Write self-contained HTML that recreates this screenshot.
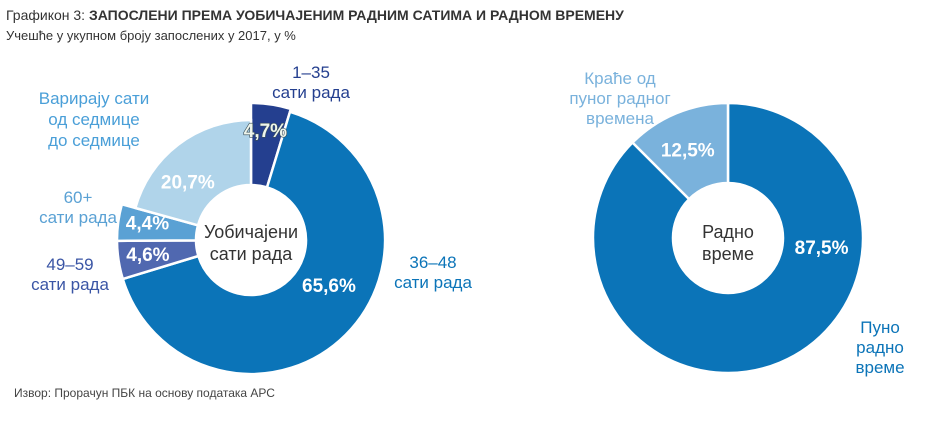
<!DOCTYPE html>
<html><head><meta charset="utf-8"><style>
body{margin:0;width:940px;height:428px;background:#fff;overflow:hidden;font-family:"Liberation Sans","DejaVu Sans",sans-serif}
svg text{font-family:"Liberation Sans","DejaVu Sans",sans-serif}
</style></head><body>
<svg width="940" height="428">
<text x="6" y="20" font-size="14" fill="#333">Графикон 3: <tspan font-weight="bold">ЗАПОСЛЕНИ ПРЕМА УОБИЧАЈЕНИМ РАДНИМ САТИМА И РАДНОМ ВРЕМЕНУ</tspan></text>
<text x="6" y="40" font-size="13" fill="#333">Учешће у укупном броју запослених у 2017, у %</text>
<text x="14" y="397" font-size="12" fill="#444">Извор: Прорачун ПБК на основу података АРС</text>
<g id="left"></g><g id="right"></g>
<g font-size="17" fill="#4a9fd8" text-anchor="middle">
<text x="94" y="104"><tspan x="94">Варирају сати</tspan><tspan x="94" dy="21">од седмице</tspan><tspan x="94" dy="21">до седмице</tspan></text>
<text x="78" y="203" fill="#5aa1d4"><tspan x="78">60+</tspan><tspan x="78" dy="20">сати рада</tspan></text>
<text x="70" y="270" fill="#3a55a5"><tspan x="70">49–59</tspan><tspan x="70" dy="20">сати рада</tspan></text>
<text x="311" y="78" fill="#243f8f"><tspan x="311">1–35</tspan><tspan x="311" dy="20">сати рада</tspan></text>
<text x="433" y="268" fill="#0b74b8"><tspan x="433">36–48</tspan><tspan x="433" dy="20">сати рада</tspan></text>
<text x="620" y="84" fill="#7ab2dc"><tspan x="620">Краће од</tspan><tspan x="620" dy="20">пуног радног</tspan><tspan x="620" dy="20">времена</tspan></text>
<text x="880" y="333" fill="#0b74b8"><tspan x="880">Пуно</tspan><tspan x="880" dy="20">радно</tspan><tspan x="880" dy="20">време</tspan></text>
</g>
<g font-size="18" fill="#333" text-anchor="middle">
<text x="251" y="238"><tspan x="251">Уобичајени</tspan><tspan x="251" dy="22">сати рада</tspan></text>
<text x="728" y="238"><tspan x="728">Радно</tspan><tspan x="728" dy="22">време</tspan></text>
</g>
</svg>
<script>
const leftCats=["1–35","36–48","49–59","60+","Варирају"];
const leftVals=[4.7,65.6,4.6,4.4,20.7];
const leftLabels=["4,7%","65,6%","4,6%","4,4%","20,7%"];
const rightCats=["Пуно","Краће"];
const rightVals=[87.5,12.5];
const rightLabels=["87,5%","12,5%"];
const NS="http://www.w3.org/2000/svg";
function donut(gid,cx,cy,vals,labels,colors,radii,ri,labelR,labelShift,outline,prefix){
  const g=document.getElementById(gid);
  const tot=vals.reduce((a,b)=>a+b,0);let a0=0;
  const texts=[];
  vals.forEach((v,i)=>{
    const a1=a0+v/tot*2*Math.PI, R=radii[i];
    const p=(r,a)=>[cx+r*Math.sin(a),cy-r*Math.cos(a)];
    const [x1,y1]=p(R,a0),[x2,y2]=p(R,a1),[x3,y3]=p(ri,a1),[x4,y4]=p(ri,a0);
    const lg=(a1-a0)>Math.PI?1:0;
    const path=document.createElementNS(NS,"path");
    path.setAttribute("d",`M${x1},${y1}A${R},${R} 0 ${lg} 1 ${x2},${y2}L${x3},${y3}A${ri},${ri} 0 ${lg} 0 ${x4},${y4}Z`);
    path.setAttribute("fill",colors[i]);path.setAttribute("stroke","#fff");path.setAttribute("stroke-width","2.5");
    
    
    g.appendChild(path);
    const am=(a0+a1)/2+labelShift[i]*Math.PI/180,[tx,ty]=p(labelR[i],am);
    const t=document.createElementNS(NS,"text");
    t.setAttribute("x",tx);t.setAttribute("y",ty+7);t.setAttribute("text-anchor","middle");
    t.setAttribute("font-size","19");t.setAttribute("font-weight","bold");
    if(outline[i]){t.setAttribute("fill","#eef5ec");t.setAttribute("stroke","#3a4f5a");t.setAttribute("stroke-width","1.2");t.setAttribute("paint-order","stroke");}
    else t.setAttribute("fill","#fff");
    t.textContent=labels[i];
    
    
    texts.push(t);
    a0=a1;
  });
  texts.forEach(t=>g.appendChild(t));
}
donut("left",251,240,leftVals,leftLabels,["#243f8f","#0b74b8","#5068b0","#5aa1d4","#b0d4ea"],[137,134,134,134,120],55,[111,90,104,105,86],[-1,-15,1,2,-10],[1,0,0,0,0],"left");
donut("right",728,238,rightVals,rightLabels,["#0b74b8","#7ab2dc"],[135,135],55,[94,97],[-62,-2],[0,0],"right");
</script>
</body></html>
